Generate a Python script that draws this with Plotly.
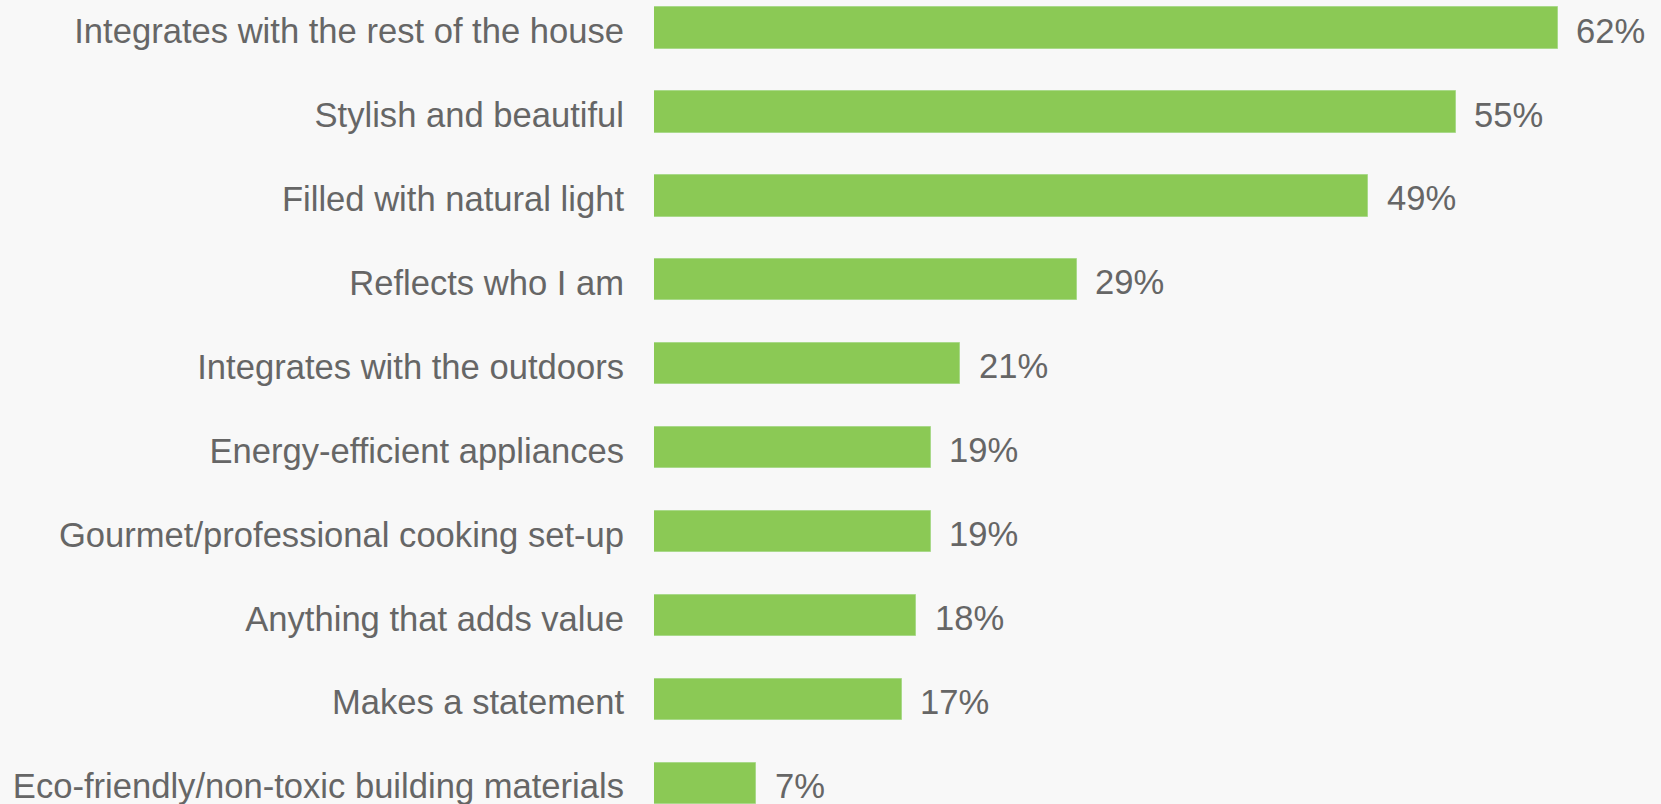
import plotly.graph_objects as go

categories = [
    "Integrates with the rest of the house",
    "Stylish and beautiful",
    "Filled with natural light",
    "Reflects who I am",
    "Integrates with the outdoors",
    "Energy-efficient appliances",
    "Gourmet/professional cooking set-up",
    "Anything that adds value",
    "Makes a statement",
    "Eco-friendly/non-toxic building materials",
]
values = [62, 55, 49, 29, 21, 19, 19, 18, 17, 7]

positions = list(range(len(categories)))
BG = "#f8f8f8"
GREEN = "#8bc955"
GRAY = "#666666"
FONT = "Liberation Sans, Arial, sans-serif"
FS = 34.6

fig = go.Figure()
fig.add_trace(go.Bar(
    x=values,
    y=positions,
    orientation="h",
    width=0.492,
    marker=dict(color=GREEN, line=dict(color="#a9d98a", width=1)),
    hoverinfo="skip",
))

for v, p in zip(values, positions):
    fig.add_annotation(
        x=v, y=p, text=f"{v}%", showarrow=False,
        xanchor="left", yanchor="middle", xshift=16.5, yshift=-2.5,
        font=dict(family=FONT, size=FS, color=GRAY),
    )

fig.update_layout(
    width=1661, height=804,
    margin=dict(l=654, r=0, t=0, b=0),
    paper_bgcolor=BG, plot_bgcolor=BG,
    showlegend=False,
    bargap=0,
    xaxis=dict(range=[0, 69.1], visible=False, fixedrange=True),
    yaxis=dict(
        range=[9.248, -0.335],
        tickvals=positions, ticktext=categories,
        tickfont=dict(family=FONT, size=FS, color=GRAY),
        showgrid=False, zeroline=False, showline=False,
        ticks="", ticklabelstandoff=29, ticklabelshift=-3,
        ticklabeloverflow="allow",
    ),
)

fig.write_html(
    "out.html",
    config={"displayModeBar": False},
    post_script="document.body.style.margin='0';document.body.style.background='%s';" % BG,
)
